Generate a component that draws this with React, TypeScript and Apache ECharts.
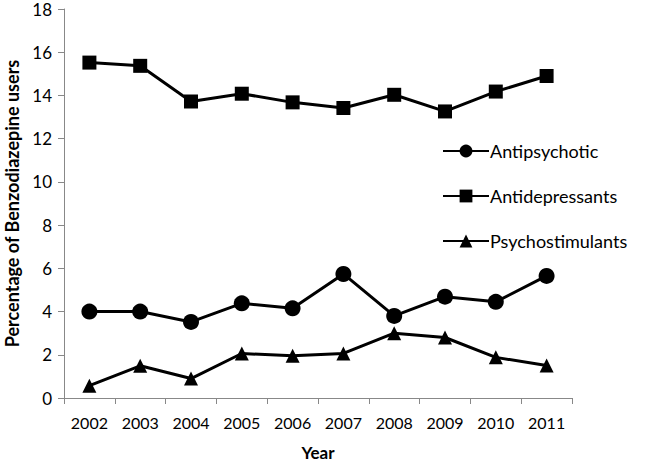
import React, { useEffect, useRef } from "react";
import * as echarts from "echarts";

const years = ["2002", "2003", "2004", "2005", "2006", "2007", "2008", "2009", "2010", "2011"];
const antipsychotic = [4.0, 4.0, 3.52, 4.38, 4.15, 5.74, 3.8, 4.69, 4.45, 5.65];
const antidepressants = [15.52, 15.37, 13.72, 14.08, 13.68, 13.42, 14.03, 13.26, 14.18, 14.9];
const psychostimulants = [0.57, 1.49, 0.9, 2.06, 1.95, 2.06, 3.0, 2.8, 1.88, 1.5];

const FONT = "Lato";

export default function App() {
  const ref = useRef<HTMLDivElement>(null);
  useEffect(() => {
    const chart = echarts.init(ref.current!, undefined, { renderer: "svg" });
    const mk = (name: string, data: number[], symbol: string, size: number) => ({
      name,
      type: "line",
      data,
      symbol,
      symbolSize: size,
      lineStyle: { color: "#000", width: 3 },
      itemStyle: { color: "#000" },
    });
    chart.setOption({
      animation: false,
      backgroundColor: "#fff",
      textStyle: { fontFamily: FONT },
      grid: { left: 64, right: 78, top: 9, bottom: 65, outerBoundsMode: "none", containLabel: false },
      legend: {
        orient: "vertical",
        left: 437,
        top: 137,
        itemWidth: 46,
        itemHeight: 16,
        itemGap: 27,
        textStyle: { fontFamily: FONT, fontSize: 18, color: "#000", padding: [0, 0, 0, -4] },
        data: ["Antipsychotic", "Antidepressants", "Psychostimulants"],
      },
      xAxis: {
        type: "category",
        data: years,
        boundaryGap: true,
        name: "Year",
        nameLocation: "middle",
        nameGap: 46,
        nameTextStyle: { fontFamily: FONT, fontSize: 17, fontWeight: "bold", color: "#000" },
        axisLine: { lineStyle: { color: "#888", width: 1 } },
        axisTick: { show: true, alignWithLabel: false, interval: 0, length: 6, lineStyle: { color: "#888" } },
        axisLabel: { color: "#000", fontSize: 16, margin: 16, fontFamily: FONT, interval: 0, hideOverlap: false },
        splitLine: { show: false },
      },
      yAxis: {
        type: "value",
        min: 0,
        max: 18,
        interval: 2,
        name: "Percentage of Benzodiazepine users",
        nameLocation: "middle",
        nameGap: 42,
        nameTextStyle: { fontFamily: FONT, fontSize: 18, fontWeight: "bold", color: "#000" },
        axisLine: { show: true, lineStyle: { color: "#888", width: 1 } },
        axisTick: { show: true, length: 6, lineStyle: { color: "#888" } },
        axisLabel: { color: "#000", fontSize: 17, margin: 12, fontFamily: FONT },
        splitLine: { show: false },
      },
      series: [
        mk("Antipsychotic", antipsychotic, "circle", 16),
        mk("Antidepressants", antidepressants, "rect", 14),
        mk("Psychostimulants", psychostimulants, "triangle", 14),
      ],
    });
    return () => chart.dispose();
  }, []);
  return <div ref={ref} style={{ width: 650, height: 463, position: "absolute", left: 0, top: 0 }} />;
}
